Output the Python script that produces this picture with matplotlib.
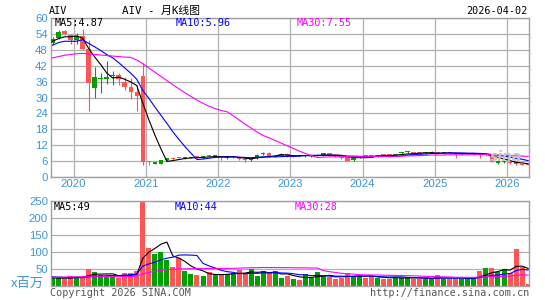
"""
AIV monthly K-line chart (Sina style): candles + MA5/10/30 on top,
volume bars + volume MAs below.
"""

import matplotlib
matplotlib.use("Agg")
import matplotlib.pyplot as plt
import numpy as np

W, H = 545, 300

# --- Data (Sep 2019 .. Apr 2026, one entry per month) ----------------------

years = ["2020", "2021", "2022", "2023", "2024", "2025", "2026"]
year_start_idx = [4, 16, 28, 40, 52, 64, 76]   # bar index of each January

open_ = [50.8, 52.6, 55.0, 53.8, 51.7, 53.2, 48.3, 33.7, 36.9, 37.0,
         38.2, 38.7, 35.9, 34.1, 32.2, 38.2, 5.5, 5.0, 5.0, 6.2,
         7.0, 7.4, 6.9, 7.2, 7.5, 7.0, 8.0, 7.7, 7.6, 7.1,
         7.3, 7.4, 6.6, 6.3, 7.0, 8.7, 9.0, 7.6, 8.0, 8.6,
         7.7, 8.1, 7.8, 7.8, 8.0, 8.0, 8.9, 8.1, 7.4, 7.3,
         6.2, 7.4, 8.0, 7.9, 7.7, 8.4, 8.6, 8.1, 8.9, 9.2,
         9.3, 9.0, 8.9, 8.9, 9.4, 8.8, 9.2, 8.7, 8.6, 8.7,
         8.5, 8.4, 8.1, 8.0, 5.2, 5.5, 5.6, 5.9, 4.8, 4.5]
close = [52.3, 55.0, 54.2, 51.7, 53.3, 48.3, 35.6, 37.9, 37.3, 37.6,
         38.7, 37.0, 34.1, 32.2, 30.6, 5.5, 5.4, 5.1, 6.3, 6.9,
         6.8, 7.2, 7.1, 7.4, 7.3, 7.7, 7.8, 7.9, 7.3, 7.3,
         7.5, 6.6, 6.4, 6.4, 8.4, 9.0, 7.7, 7.8, 8.6, 7.7,
         7.8, 7.9, 8.0, 7.9, 8.3, 8.9, 8.1, 7.9, 7.1, 6.1,
         7.3, 7.7, 7.8, 7.7, 8.3, 8.3, 8.0, 8.3, 9.1, 9.4,
         8.7, 8.8, 9.1, 9.4, 8.7, 8.9, 9.1, 8.6, 8.7, 8.8,
         8.6, 8.3, 8.2, 5.6, 5.9, 5.6, 5.2, 4.8, 4.5, 4.3]
high = [52.8, 55.5, 55.6, 54.0, 54.6, 56.0, 51.7, 41.4, 39.1, 44.0,
        40.0, 39.2, 37.9, 37.2, 34.7, 42.9, 6.0, 5.4, 6.5, 7.1,
        7.3, 7.6, 7.4, 7.6, 7.8, 7.9, 8.2, 8.1, 7.9, 7.6,
        7.7, 7.6, 6.9, 6.9, 8.6, 9.4, 9.2, 8.1, 8.8, 8.8,
        8.3, 8.4, 8.3, 8.1, 8.5, 9.0, 9.0, 8.3, 7.6, 7.4,
        7.5, 7.9, 8.2, 8.1, 8.4, 8.6, 8.7, 8.5, 9.3, 9.7,
        9.4, 9.2, 9.3, 9.6, 9.5, 9.1, 9.4, 9.0, 9.0, 9.0,
        8.9, 8.6, 8.4, 8.1, 6.0, 6.1, 5.8, 6.0, 5.0, 4.8]
low = [50.3, 52.0, 53.6, 50.1, 50.1, 47.9, 24.7, 29.9, 31.6, 35.3,
       34.7, 34.8, 32.7, 29.4, 24.7, 4.5, 4.6, 4.8, 4.9, 6.0,
       6.5, 6.9, 6.7, 7.0, 7.0, 6.8, 7.5, 7.5, 6.5, 6.8,
       7.0, 6.3, 5.6, 5.8, 6.7, 8.4, 7.5, 7.3, 7.8, 7.5,
       7.4, 7.6, 7.5, 7.5, 7.8, 7.9, 7.9, 7.6, 6.8, 5.9,
       6.0, 7.2, 7.5, 7.4, 7.6, 8.0, 7.9, 7.9, 8.7, 9.0,
       8.5, 8.5, 8.7, 8.8, 8.5, 8.5, 8.8, 7.2, 8.3, 8.5,
       8.3, 7.1, 7.9, 5.4, 5.0, 5.3, 5.0, 4.6, 4.4, 4.3]

ma5 = [51.3, 52.3, 53.0, 53.0, 53.3, 52.5, 48.6, 45.4, 42.5, 39.3,
       37.4, 37.7, 36.9, 35.9, 34.5, 27.9, 21.6, 15.8, 10.6, 5.8,
       6.1, 6.5, 6.9, 7.1, 7.2, 7.3, 7.5, 7.6, 7.6, 7.6,
       7.6, 7.3, 7.0, 6.8, 7.1, 7.4, 7.6, 7.9, 8.3, 8.2,
       7.9, 8.0, 8.0, 7.9, 8.0, 8.2, 8.2, 8.2, 8.1, 7.6,
       7.3, 7.2, 7.2, 7.3, 7.8, 8.0, 8.0, 8.1, 8.4, 8.6,
       8.7, 8.9, 9.0, 9.1, 8.9, 9.0, 9.0, 8.9, 8.8, 8.8,
       8.8, 8.6, 8.5, 7.9, 7.3, 6.7, 6.1, 5.4, 5.2, 4.9]
ma10 = [49.8, 50.8, 51.3, 51.3, 51.3, 51.9, 50.5, 49.2, 47.8, 46.3,
        45.0, 43.2, 41.2, 39.2, 36.9, 32.7, 29.7, 26.4, 23.3, 20.2,
        17.0, 14.1, 11.4, 8.9, 6.5, 6.7, 7.0, 7.3, 7.4, 7.4,
        7.5, 7.4, 7.3, 7.2, 7.4, 7.5, 7.5, 7.5, 7.6, 7.7,
        7.7, 7.8, 8.0, 8.1, 8.1, 8.1, 8.1, 8.1, 8.0, 7.8,
        7.8, 7.7, 7.7, 7.7, 7.7, 7.7, 7.6, 7.7, 7.9, 8.2,
        8.4, 8.5, 8.6, 8.8, 8.8, 8.9, 9.0, 9.0, 9.0, 8.9,
        8.9, 8.8, 8.7, 8.4, 8.1, 7.8, 7.4, 7.0, 6.6, 6.1]
ma30 = [45.0, 45.5, 46.0, 46.3, 46.6, 46.7, 46.5, 46.3, 46.1, 45.9,
        45.7, 45.5, 45.3, 45.2, 44.2, 42.8, 41.2, 39.6, 38.0, 36.4,
        34.8, 33.3, 31.8, 30.4, 29.0, 27.8, 26.7, 25.8, 25.1, 24.6,
        23.1, 21.5, 19.9, 18.4, 16.9, 15.6, 14.7, 13.7, 12.7, 11.7,
        10.7, 9.7, 8.8, 8.0, 7.3, 7.4, 7.5, 7.6, 7.6, 7.6,
        7.6, 7.6, 7.6, 7.6, 7.7, 7.7, 7.7, 7.7, 7.8, 7.9,
        7.9, 8.0, 8.1, 8.2, 8.2, 8.2, 8.3, 8.3, 8.3, 8.3,
        8.4, 8.4, 8.4, 8.3, 8.2, 8.1, 8.0, 7.9, 7.8, 7.7]

# volume in millions of shares
volume = [25.5, 25.5, 21.6, 29.4, 25.5, 25.5, 50, 42, 32, 27.5,
          27.5, 22.5, 39, 39, 44, 262, 113, 94, 101, 76,
          57, 83, 44, 35, 32, 29, 41, 33, 33, 35,
          37, 47, 38, 50, 29, 43, 37, 44, 24, 30,
          20, 17, 34, 25, 42, 29, 27, 21, 25, 39,
          29, 29, 23, 29, 25, 22, 22, 25, 25, 25,
          22, 22, 21, 21, 31, 22, 22, 22, 22, 22,
          22, 45, 53, 53, 40, 50, 37, 109, 57, 6]
vol_ma5 = [24, 23, 23, 23, 25.5, 25.5, 30.4, 34.5, 35, 35.4,
           35.8, 30.3, 29.7, 31.1, 34.4, 81.3, 99.4, 110.4, 122.8, 129.2,
           88.2, 82.2, 72.2, 59, 50.2, 44.6, 36.2, 34, 33.6, 34.2,
           35.8, 37, 38, 41.4, 40.2, 41.4, 39.4, 40.6, 35.4, 35.6,
           31, 27, 25, 25.2, 27.6, 29.4, 31.4, 28.8, 28.8, 28.2,
           28.2, 28.6, 29, 29.8, 27, 25.6, 24.2, 24.6, 23.8, 23.8,
           23.8, 23.8, 23, 22.2, 23.4, 23.4, 23.4, 23.6, 23.8, 22,
           22, 26.6, 32.8, 39, 42.6, 48.2, 46.6, 57.8, 58.6, 51.8]
vol_ma10 = [27, 26, 25, 24.5, 24.5, 24.8, 26.7, 28.8, 29, 30.5,
            30.7, 30.4, 32.1, 33, 34.9, 58.6, 64.9, 70, 77, 81.8,
            84.8, 90.8, 91.3, 90.9, 89.7, 66.4, 59.2, 53.1, 46.3, 42.2,
            40.2, 36.6, 36, 37.5, 37.2, 38.6, 38.2, 39.3, 38.4, 37.9,
            36.2, 33.2, 32.8, 30.3, 31.6, 30.2, 29.2, 26.9, 27, 27.9,
            28.8, 30, 28.9, 29.3, 27.6, 26.9, 26.4, 26.8, 26.8, 25.4,
            24.7, 24, 23.8, 23, 23.6, 23.6, 23.6, 23.3, 23, 22.7,
            22.7, 25, 28.2, 31.4, 32.3, 35.1, 36.6, 45.3, 48.8, 47.2]
vol_ma30 = [25.5, 26, 26.5, 27, 27, 27, 27.5, 27.5, 27.5, 27.5,
            27.5, 27.5, 28, 28, 29, 36, 40, 43, 46, 48,
            49, 50, 50.5, 51, 51, 51, 51.5, 51.5, 51.5, 51.5,
            51.9, 52.6, 53.1, 53.8, 53.9, 54.5, 54.1, 54.2, 53.9, 54.0,
            53.7, 53.5, 53.4, 52.9, 52.8, 45.1, 42.2, 39.8, 37.3, 36.0,
            35.1, 33.3, 32.6, 32.4, 32.2, 31.9, 31.3, 31.0, 30.8, 30.4,
            29.9, 29.1, 28.5, 27.6, 27.6, 26.9, 26.4, 25.7, 25.6, 25.4,
            25.4, 26.4, 27.0, 27.9, 27.9, 28.6, 28.9, 31.9, 32.9, 31.8]

price_legend = ["MA5:4.87", "MA10:5.96", "MA30:7.55"]
vol_legend = ["MA5:49", "MA10:44", "MA30:28"]

# --- Style ----------------------------------------------------------------

RED = "#ff5555"
GREEN = "#00a000"
GRID = "#b0b0b0"
FRAME = "#a0a0a0"
LABEL = "#3b95d6"
MA_COLORS = ["black", "#0000ff", "#ff00ff"]
MONO = "DejaVu Sans Mono"


def px(x, y):
    """Pixel position (from top-left) -> figure fraction."""
    return x / W, 1 - y / H


def style_axes(ax):
    for s in ax.spines.values():
        s.set_color(FRAME)
        s.set_linewidth(1.0)
    ax.tick_params(length=0, labelcolor=LABEL, labelsize=8.2, pad=2)
    for lab in ax.get_yticklabels() + ax.get_xticklabels():
        lab.set_fontfamily("Liberation Sans")
    ax.set_axisbelow(True)


def main():
    x = np.arange(len(close))
    o = np.array(open_)
    c = np.array(close)
    colors = np.where(c >= o, GREEN, RED)
    xlim = (-0.3, 79.15)

    fig = plt.figure(figsize=(W / 100, H / 100), dpi=100)
    ax = fig.add_axes([50.7 / W, 1 - 176.7 / H, (529 - 50.7) / W, (176.7 - 18.3) / H])
    axv = fig.add_axes([50.7 / W, 1 - 286 / H, (529 - 50.7) / W, (286 - 201) / H])

    # price panel
    ax.set_xlim(*xlim)
    ax.set_ylim(0, 60)
    ax.set_yticks(range(0, 61, 6))
    grid_x = [i - 0.5 for i in year_start_idx]
    ax.set_xticks(grid_x)
    ax.set_xticklabels(years)
    ax.grid(axis="y", color=GRID, linewidth=0.9)
    for gx in grid_x:
        ax.axvline(gx, color=GRID, linewidth=0.9, zorder=0)

    ax.vlines(x, low, high, colors=colors, linewidth=0.8, zorder=2)
    body_h = np.maximum(np.abs(c - o), 0.4)
    ax.bar(x, body_h, bottom=np.minimum(o, c), width=0.75, color=colors,
           linewidth=0, zorder=3)
    for vals, col in zip([ma5, ma10, ma30], MA_COLORS):
        ax.plot(x, vals, color=col, linewidth=0.8, zorder=4)

    ax.text(0.985, 0.08, "sina", transform=ax.transAxes, ha="right", va="bottom",
            fontsize=10, fontweight="bold", style="italic", color="#c4c4c4",
            family="DejaVu Sans", zorder=5)
    style_axes(ax)

    # volume panel
    axv.set_xlim(*xlim)
    axv.set_ylim(0, 250)
    axv.set_yticks([50, 100, 150, 200, 250])
    axv.set_xticks([])
    axv.grid(axis="y", color=GRID, linewidth=0.9)
    axv.bar(x, volume, width=0.83, color=colors, linewidth=0, zorder=2)
    for vals, col in zip([vol_ma5, vol_ma10, vol_ma30], MA_COLORS):
        axv.plot(x, vals, color=col, linewidth=0.8, zorder=4)
    style_axes(axv)

    # header and legends
    fs = 7.3
    fig.text(*px(49, 11), "AIV", ha="left", va="center", family=MONO, fontsize=fs)
    fig.text(*px(122, 11), "AIV - 月K线图", ha="left", va="center",
             family=[MONO, "Noto Sans CJK SC"], fontsize=fs + 0.5)
    fig.text(*px(527, 11), "2026-04-02", ha="right", va="center", family=MONO, fontsize=fs)

    for label, xpos, col in zip(price_legend, [55, 175.5, 296.5], MA_COLORS):
        fig.text(*px(xpos, 23.5), label, ha="left", va="center", family=MONO,
                 fontsize=fs, color=col)
    for label, xpos, col in zip(vol_legend, [54, 175, 295], MA_COLORS):
        fig.text(*px(xpos, 206.5), label, ha="left", va="center", family=MONO,
                 fontsize=fs, color=col)

    fig.text(*px(44, 283), "x百万", ha="right", va="center",
             family=["Noto Sans CJK SC", "DejaVu Sans"], fontsize=9.5, color=LABEL)
    fig.text(*px(50, 292.5), "Copyright 2026 SINA.COM", ha="left", va="center",
             family=MONO, fontsize=fs, color="#555555")
    fig.text(*px(529, 292.5), "http://finance.sina.com.cn", ha="right", va="center",
             family=MONO, fontsize=fs, color="#555555")

    fig.savefig("out.png", dpi=100, facecolor="white")
    plt.close(fig)


if __name__ == "__main__":
    main()
